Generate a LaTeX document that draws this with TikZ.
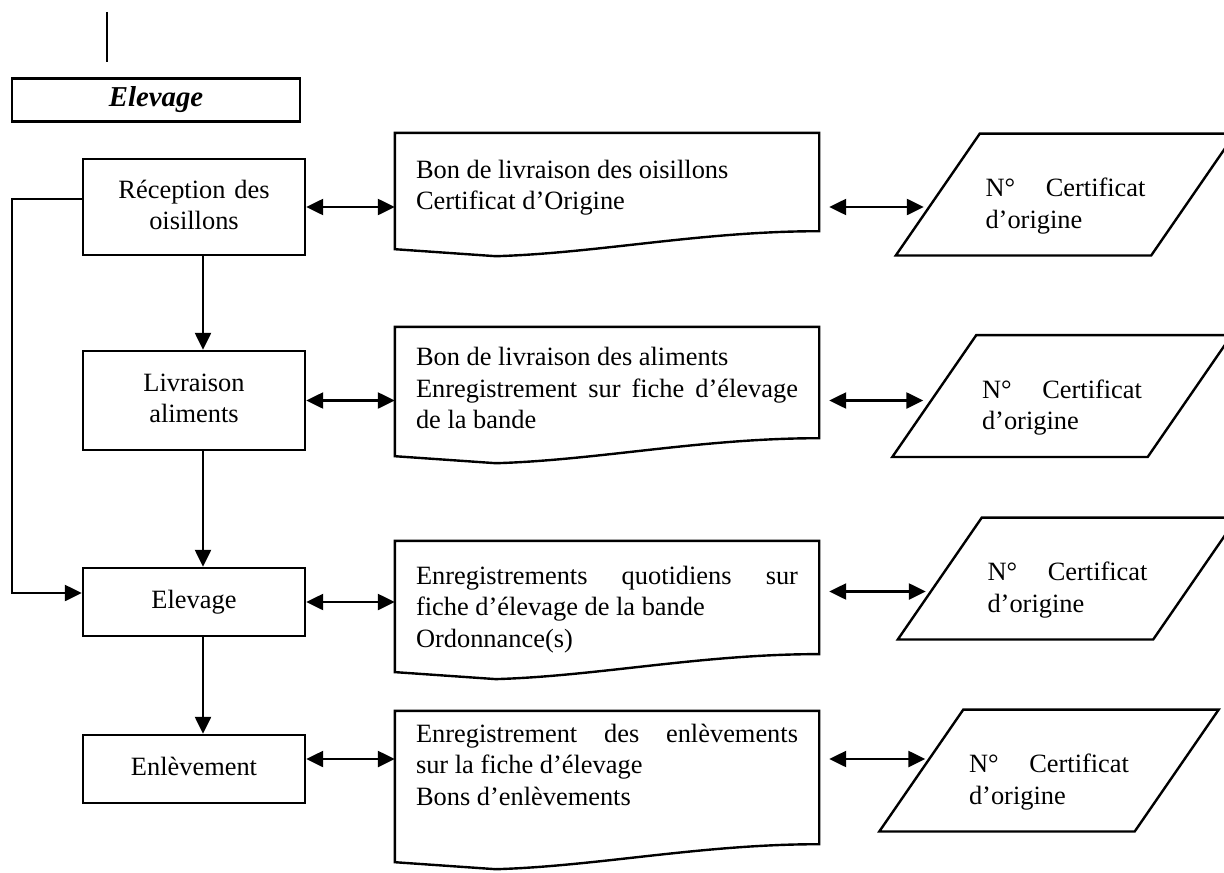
\documentclass[tikz,border=0pt]{standalone}
\usepackage{fontspec}
\setmainfont{Liberation Serif}
\usetikzlibrary{arrows.meta,positioning}

\begin{document}
\begin{tikzpicture}[x=0.5pt, y=-0.5pt, line width=1.2pt, font=\fontsize{13.2pt}{15.8pt}\selectfont]
			\useasboundingbox (0,0) rectangle (1224,872);
			% Define the box styles
			\tikzstyle{stepbox} = [draw, rectangle, minimum width=111pt, text width=100pt, align=center, execute at end node={\rule[-2.3pt]{0pt}{2.3pt}}];
			\tikzstyle{docbox} = [rectangle, minimum width=211pt, text width=191pt, inner xsep=10pt, inner ysep=0pt, align=justify, execute at begin node={\rule{0pt}{15pt}}];
			\tikzstyle{iobox} = [rectangle, minimum width=126.5pt, minimum height=59.75pt, text width=80pt, align=justify, execute at begin node={\rule{0pt}{21pt}}];
			\tikzstyle{flow} = [-{Triangle[length=8.5pt,width=8pt]}];
			\tikzstyle{link} = [{Triangle[length=8.5pt,width=8pt]}-{Triangle[length=8.5pt,width=8pt]}];
			
			\coordinate (top) at (107,12);
			\coordinate (topend) at (107,62);
			\draw (top) -- (topend);
			\node[draw, minimum width=144pt, minimum height=21.5pt, font=\fontsize{14.4pt}{17pt}\selectfont\bfseries\itshape] (head) at (156,100) {Elevage};
			
			% Steps on the left
			\node[stepbox, minimum height=48pt] (b1) at (194,207) {Réception des\\ oisillons};
			\node[stepbox, minimum height=49.5pt] (b2) at (194,400.5) {Livraison\\ aliments};
			\node[stepbox, minimum height=34pt] (b3) at (194,602) {Elevage};
			\node[stepbox, minimum height=34pt] (b4) at (194,769) {Enlèvement};
			
			% Documents
			\node[docbox, minimum height=48pt] (d1) at (607,182) {Bon de livraison des oisillons\\ Certificat d’Origine};
			\node[docbox, minimum height=54.5pt] (d2) at (607,382.5) {Bon de livraison des aliments\\ Enregistrement sur fiche d’élevage\linebreak de la bande};
			\node[docbox, minimum height=54.5pt] (d3) at (607,597.5) {\rule{0pt}{21pt}Enregistrements quotidiens sur\linebreak fiche d’élevage de la bande\\ Ordonnance(s)};
			\node[docbox, minimum height=65.5pt] (d4) at (607,777.5) {Enregistrement des enlèvements\linebreak sur la fiche d’élevage\\ Bons d’enlèvements\rule[-18.9pt]{0pt}{18.9pt}};
			\foreach \d in {d1,d2,d3,d4}
			\draw ([yshift=-9pt]\d.south west) -- (\d.north west) -- (\d.north east) -- (\d.south east) .. controls +(-59pt,0pt) and +(51pt,1.5pt) .. ([shift={(50.5pt,-12.5pt)}]\d.south west) -- cycle;
			
			% Certificates
			\node[iobox] (p1) at (1065.5,194.5) {N° Certificat\linebreak d’origine};
			\node[iobox] (p2) at (1062,396) {N° Certificat\linebreak d’origine};
			\node[iobox] (p3) at (1067.5,578.5) {N° Certificat\linebreak d’origine};
			\node[iobox] (p4) at (1049,770.5) {N° Certificat\linebreak d’origine};
			\foreach \p in {p1,p2,p3,p4}
			\draw ([xshift=-21pt]\p.south west) -- ([xshift=-21pt]\p.south east) -- ([xshift=21pt]\p.north east) -- ([xshift=21pt]\p.north west) -- cycle;
			
			% Flow down the steps
			\foreach \a/\b in {b1/b2, b2/b3, b3/b4}
			\draw[flow] ([xshift=4.5pt]\a.south) -- ([xshift=4.5pt]\b.north);
			\coordinate (loop) at (12,400);
			\draw[flow] ([yshift=4pt]b1.west) -| (loop) |- ([yshift=4.5pt]b3.west);
			
			% Links between columns
			\coordinate (r3) at ([yshift=3pt]d3.east);
			\coordinate (r4) at ([yshift=5pt]b4.east);
			\draw[link] (b1.east) -- (b1.east -| d1.west);
			\draw[link] (b2.east) -- (b2.east -| d2.west);
			\draw[link] (b3.east) -- (b3.east -| d3.west);
			\draw[link] (r4) -- (r4 -| d4.west);
			\draw[link] ([xshift=5pt]d1.east |- b1.east) -- ([xshift=-7pt]p1.west |- b1.east);
			\draw[link] ([xshift=5pt]d2.east |- b2.east) -- ([xshift=-5.5pt]p2.west |- b2.east);
			\draw[link] ([xshift=5pt]r3) -- ([xshift=-7pt]p3.west |- r3);
			\draw[link] ([xshift=5pt]d4.east |- r4) -- ([xshift=2pt]p4.west |- r4);
		\end{tikzpicture}
\end{document}
